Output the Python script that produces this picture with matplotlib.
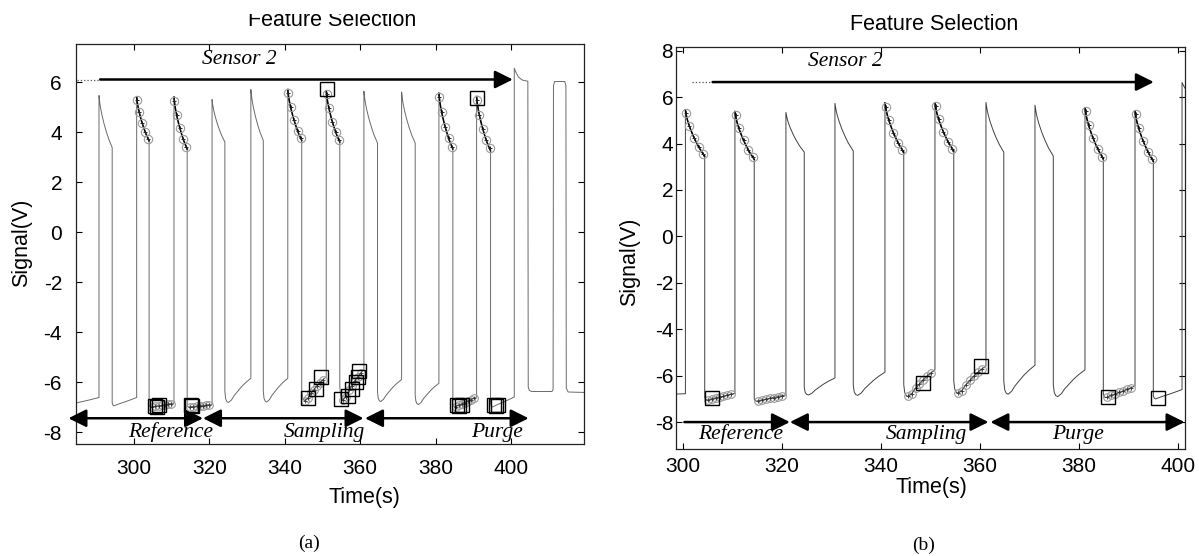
import numpy as np
import matplotlib
matplotlib.use("Agg")
import matplotlib.pyplot as plt
from matplotlib.transforms import Bbox

# ---------------- data ----------------
# Panel (a): pulse timing (s) and levels (V)
rise_a = [290.7, 300.7, 310.6, 320.7, 331.0, 340.8, 351.0, 361.0, 371.0, 380.9, 390.9]
fall_a = [294.2, 304.0, 314.1, 324.1, 334.3, 344.5, 354.6, 364.6, 374.6, 384.6, 394.6]
peak_a = [5.46, 5.40, 5.40, 5.30, 5.70, 5.70, 5.65, 5.63, 5.60, 5.55, 5.42]
hiend_a = [3.38, 3.65, 3.32, 3.60, 3.66, 3.66, 3.60, 3.56, 3.56, 3.32, 3.25]
lowmin_a = [-6.88, -6.95, -7.00, -7.00, -6.82, -6.80, -6.75, -6.72, -6.78, -6.90, -7.00, -7.00]
lowend_a = [-6.62, -6.62, -6.85, -6.90, -5.85, -5.85, -5.80, -5.50, -5.90, -6.05, -6.60, -6.60]
lowshape_a = ["flat", "flat", "flat", "flat", "curve", "curve", "curve", "curve",
              "curve", "curve", "flat", "flat"]
tail_t_a = [400.9, 401.3, 402.0, 403.0, 404.5, 404.6, 404.9, 405.5, 410.9, 411.2,
            411.3, 411.6, 414.3, 414.6, 414.7, 415.2, 420.0]
tail_v_a = [6.55, 6.40, 6.20, 6.08, 6.03, -6.20, -6.34, -6.38, -6.38, -6.30,
            5.85, 6.02, 6.02, 5.85, -6.25, -6.40, -6.42]
hl_pulse_a = [1, 2, 5, 6, 9, 10]
hl_low_a = [2, 3, 6, 7, 10, 11]
box_t_a = [305.5, 306.0, 306.5, 315.0, 315.5, 346.1, 348.3, 349.7, 355.0, 356.8,
           357.8, 358.8, 359.3, 359.8, 385.8, 386.3, 386.9, 395.5, 396.0, 396.5,
           351.1, 391.1]
box_v_a = [-6.95, -7.00, -6.92, -6.92, -6.95, -6.63, -6.26, -5.80, -6.66, -6.55,
           -6.26, -6.00, -5.80, -5.54, -6.92, -6.95, -6.92, -6.92, -6.95, -6.92,
           5.72, 5.38]

# Panel (b)
rise_b = [300.5, 310.5, 320.8, 330.7, 340.8, 350.9, 361.2, 371.1, 381.2, 391.3]
fall_b = [304.4, 314.4, 324.5, 334.4, 344.6, 354.7, 364.8, 374.8, 384.9, 395.0]
peak_b = [5.45, 5.38, 5.34, 5.73, 5.75, 5.75, 5.77, 5.65, 5.54, 5.41]
hiend_b = [3.46, 3.32, 3.63, 3.68, 3.63, 3.68, 3.63, 3.46, 3.35, 3.24]
lowmin_b = [-6.80, -7.05, -7.10, -6.83, -6.85, -6.90, -6.76, -6.80, -6.90, -6.95, -7.00]
lowend_b = [-6.78, -6.76, -6.83, -6.10, -5.85, -5.75, -5.58, -5.55, -5.75, -6.45, -6.60]
lowshape_b = ["flat", "flat", "flat", "curve", "curve", "curve", "curve", "curve",
              "curve", "flat", "flat"]
tail_t_b = [400.8, 401.1, 401.5, 402.0]
tail_v_b = [6.63, 6.50, 6.35, 6.25]
hl_pulse_b = [0, 1, 4, 5, 8, 9]
hl_low_b = [1, 2, 5, 6, 9, 10]
box_t_b = [305.8, 348.5, 360.2, 385.8, 395.9]
box_v_b = [-6.97, -6.33, -5.58, -6.90, -6.97]

# shape templates read from single pulses (fraction of duration, fraction of range)
HI_F = [0.0, 0.02, 0.06, 0.12, 0.22, 0.38, 0.56, 0.74, 0.90, 1.0]
HI_V = [1.0, 0.95, 0.86, 0.76, 0.63, 0.46, 0.30, 0.16, 0.06, 0.0]
FLAT_F = [0.0, 0.03, 0.08, 0.30, 0.60, 1.0]
FLAT_V = [0.35, 0.08, 0.0, 0.25, 0.55, 1.0]
CURVE_F = [0.0, 0.03, 0.08, 0.14, 0.25, 0.36, 0.50, 0.64, 0.80, 0.93, 1.0]
CURVE_V = [0.45, 0.15, 0.03, 0.0, 0.10, 0.29, 0.47, 0.65, 0.82, 0.94, 1.0]
CIRC_F = [0.03, 0.2, 0.45, 0.7, 0.93]
LOWC_F = [0.12, 0.25, 0.38, 0.5, 0.62, 0.75, 0.88]

xlim_a = (284.6, 419.4)
ylim_a = (-8.48, 7.52)
xlim_b = (298.6, 401.4)
ylim_b = (-9.16, 8.16)
xticks = [300, 320, 340, 360, 380, 400]
yticks_a = [-8, -6, -4, -2, 0, 2, 4, 6]
yticks_b = [-8, -6, -4, -2, 0, 2, 4, 6, 8]

# ---------------- helpers ----------------
def low_seg(t0, t1, vmin, vend, shape):
    F, V = (CURVE_F, CURVE_V) if shape == "curve" else (FLAT_F, FLAT_V)
    return ([t0 + f * (t1 - t0) for f in F], [vmin + v * (vend - vmin) for v in V])


def high_seg(t0, t1, pk, he):
    return ([t0 + f * (t1 - t0) for f in HI_F], [he + v * (pk - he) for v in HI_V])


def build(t_first, rise, fall, peak, hiend, lowmin, lowend, shape, tail_t, tail_v):
    ts, vs = [], []
    starts = [t_first] + list(fall)
    ends = list(rise) + [tail_t[0]]
    for i, (t0, t1) in enumerate(zip(starts, ends)):
        a, b = low_seg(t0, t1, lowmin[i], lowend[i], shape[i])
        ts += a
        vs += b
        if i < len(rise):
            a, b = high_seg(rise[i], fall[i], peak[i], hiend[i])
            ts += a
            vs += b
    ts += list(tail_t)
    vs += list(tail_v)
    return np.array(ts), np.array(vs)


def decorate(ax, ts, vs, rise, fall, peak, hiend, lowmin, lowend, shape,
             hl_pulse, hl_low, box_t, box_v, col):
    ax.plot(ts, vs, color=col, lw=0.7, zorder=2)
    for i in hl_pulse:
        dt, dv = high_seg(rise[i], fall[i], peak[i], hiend[i])
        ax.plot(dt, dv, color="black", lw=1.1, zorder=3)
        ct = [rise[i] + f * (fall[i] - rise[i]) for f in CIRC_F]
        cv = np.interp(ct, dt, dv)
        ax.plot(ct, cv, ls="none", marker="o", ms=6, mfc="none", mec="#9a9a9a",
                mew=0.8, zorder=4)
        ax.plot(ct, cv, ls="none", marker="+", ms=3.5, mec="#222222", mew=0.7, zorder=4)
    for i in hl_low:
        if i >= len(rise):
            continue
        t0, t1 = fall[i - 1], rise[i]
        lt, lv = low_seg(t0, t1, lowmin[i], lowend[i], shape[i])
        ct = [t0 + f * (t1 - t0) for f in LOWC_F]
        cv = np.interp(ct, lt, lv)
        ax.plot(ct, cv, ls="none", marker="o", ms=5.5, mfc="none", mec="#9a9a9a",
                mew=0.8, zorder=4)
        ax.plot(ct, cv, ls="-", lw=0.6, color="#555555", marker="+", ms=3,
                mec="#333333", mew=0.6, zorder=4)
    ax.plot(box_t, box_v, ls="none", marker="s", ms=10, mfc="none", mec="black",
            mew=1.0, zorder=5)


def harrow(ax, x0, x1, y, style, lw=1.8, ms=18):
    ax.annotate("", xy=(x1, y), xytext=(x0, y), xycoords="data", textcoords="data",
                arrowprops=dict(arrowstyle=style, color="black", lw=lw,
                                mutation_scale=ms, shrinkA=0, shrinkB=0),
                annotation_clip=False)


def style_axes(ax, xlim, ylim, yticks, xpad, ypad):
    ax.set_xlim(*xlim)
    ax.set_ylim(*ylim)
    ax.set_xticks(xticks)
    ax.set_yticks(yticks)
    ax.tick_params(direction="in", length=4, width=0.8, top=True, right=True,
                   labelsize=15)
    ax.tick_params(axis="x", pad=xpad)
    ax.tick_params(axis="y", pad=ypad)
    for s in ax.spines.values():
        s.set_linewidth(0.9)
        s.set_color("#222222")


plt.rcParams["font.family"] = ["Liberation Sans", "DejaVu Sans"]
plt.rcParams["axes.unicode_minus"] = False
W, H = 1199, 556
fig = plt.figure(figsize=(W / 100, H / 100), dpi=100)


def px_axes(l, t, r, b):
    return fig.add_axes([l / W, 1 - b / H, (r - l) / W, (b - t) / H])


serif = dict(family=["Liberation Serif", "DejaVu Serif"])
HEAD2 = "<|-|>,head_length=0.6,head_width=0.3"
HEAD1 = "-|>,head_length=0.6,head_width=0.3"

# ---------------- panel (a) ----------------
axA = px_axes(76, 44, 584, 444)
tsA, vsA = build(283.0, rise_a, fall_a, peak_a, hiend_a, lowmin_a, lowend_a,
                 lowshape_a, tail_t_a, tail_v_a)
decorate(axA, tsA, vsA, rise_a, fall_a, peak_a, hiend_a, lowmin_a, lowend_a,
         lowshape_a, hl_pulse_a, hl_low_a, box_t_a, box_v_a, "#6a6a6a")
style_axes(axA, xlim_a, ylim_a, yticks_a, xpad=11, ypad=10)
axA.plot([284.9, 291.0], [6.1, 6.1], color="#555555", lw=0.9, ls=":")
harrow(axA, 291.0, 400.5, 6.1, HEAD1)
axA.text(328.0, 6.9, "Sensor 2", ha="center", va="center", fontsize=15.5,
         style="italic", **serif)
yA = -7.45
harrow(axA, 282.6, 318.3, yA, HEAD2)
harrow(axA, 318.3, 360.9, yA, HEAD2)
harrow(axA, 361.3, 404.7, yA, HEAD2)
for lbl, x in [("Reference", 309.8), ("Sampling", 350.4), ("Purge", 396.3)]:
    axA.text(x, -8.02, lbl, ha="center", va="center", fontsize=15.5,
             style="italic", **serif)

# ---------------- panel (b) ----------------
axB = px_axes(676, 47, 1185, 449)
tsB, vsB = build(297.0, rise_b, fall_b, peak_b, hiend_b, lowmin_b, lowend_b,
                 lowshape_b, tail_t_b, tail_v_b)
decorate(axB, tsB, vsB, rise_b, fall_b, peak_b, hiend_b, lowmin_b, lowend_b,
         lowshape_b, hl_pulse_b, hl_low_b, box_t_b, box_v_b, "#404040")
style_axes(axB, xlim_b, ylim_b, yticks_b, xpad=5.5, ypad=2)
axB.plot([301.8, 306.0], [6.65, 6.65], color="#555555", lw=0.9, ls=":")
harrow(axB, 306.0, 395.1, 6.65, HEAD1)
axB.text(332.8, 7.52, "Sensor 2", ha="center", va="center", fontsize=15.5,
         style="italic", **serif)
yB = -8.0
harrow(axB, 300.3, 321.6, yB, HEAD1)
harrow(axB, 321.6, 361.7, yB, HEAD2)
harrow(axB, 362.1, 401.3, yB, HEAD2)
for lbl, x in [("Reference", 311.7), ("Sampling", 349.1), ("Purge", 379.8)]:
    axB.text(x, -8.52, lbl, ha="center", va="center", fontsize=15.5,
             style="italic", **serif)

# ---------------- labels ----------------
def ftext(x, y, s, **kw):
    return fig.text(x / W, 1 - y / H, s, **kw)

tA = ftext(332, 26, "Feature Selection", ha="center", va="baseline", fontsize=15.5)
tA.set_clip_box(Bbox([[0, 0], [W, H - 13.5]]))
tA.set_clip_on(True)
ftext(934, 30, "Feature Selection", ha="center", va="baseline", fontsize=15.5)
ftext(22, 243, "Signal(V)", ha="center", va="center", rotation=90, fontsize=15.5)
ftext(630, 262, "Signal(V)", ha="center", va="center", rotation=90, fontsize=15.5)
ftext(364, 498, "Time(s)", ha="center", va="center", fontsize=15.5)
ftext(931, 488, "Time(s)", ha="center", va="center", fontsize=15.5)
ftext(309, 543, "(a)", ha="center", va="center", fontsize=14, **serif)
ftext(924, 545, "(b)", ha="center", va="center", fontsize=14, **serif)

fig.savefig("out.png", dpi=100)
